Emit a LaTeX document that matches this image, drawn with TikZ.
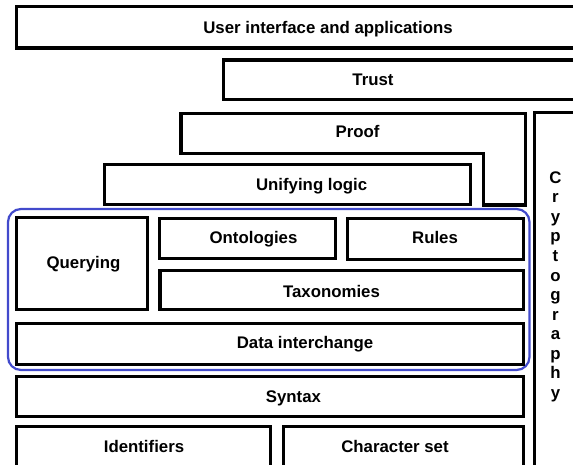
\documentclass[tikz,border=0pt]{standalone}
\usepackage{fontspec}
\setmainfont{Liberation Sans}
\definecolor{groupblue}{RGB}{66,74,204}
\begin{document}
\begin{tikzpicture}[x=1pt,y=-1pt,
  layer/.style={draw=black,line width=3.2pt,fill=white},
  lbl/.style={font=\fontsize{16.8}{19.5}\selectfont\bfseries,anchor=base,inner sep=0pt}]
\useasboundingbox (0,0) rectangle (573,465);
\fill[white] (0,0) rectangle (573,465);
\clip (0,0) rectangle (573,465);

% upper layers
\draw[layer] (16.5,6.5) rectangle (590,48);
\draw[layer] (223.5,60) rectangle (590,99.5);
\draw[layer] (181,113.5) -- (525.5,113.5) -- (525.5,205) -- (483.5,205)
  -- (483.5,153.5) -- (181,153.5) -- cycle;
\draw[layer] (104.5,164.5) rectangle (470.5,204.5);

% cryptography column
\draw[layer] (534.5,112.5) rectangle (590,480);

% grouped middle layers
\draw[groupblue,line width=2.2pt,rounded corners=13pt] (8,209) rectangle (529.5,370);
\draw[layer] (16.5,217.5) rectangle (147.5,309.5);
\draw[layer] (159.5,218.5) rectangle (335.5,258.5);
\draw[layer] (347.5,218.5) rectangle (523.5,259.5);
\draw[layer] (160,270.5) rectangle (523.5,309.5);
\draw[layer] (16.5,323.5) rectangle (523.5,364.5);

% lower layers
\draw[layer] (16.5,376.5) rectangle (523.5,416.5);
\draw[layer] (16.5,426.5) rectangle (270.5,480);
\draw[layer] (283.5,426.5) rectangle (523.5,480);

% labels
\node[lbl] (ui) at (328,33.5) {User interface and applications};
\node[lbl] (trust) at (373,86) {Trust};
\node[lbl] (proof) at (357.5,138) {Proof};
\node[lbl] (logic) at (311.6,191) {Unifying logic};
\node[lbl] (query) at (83.5,268.5) {Querying};
\node[lbl] (onto) at (253.5,243.5) {Ontologies};
\node[lbl] (rules) at (435,243.5) {Rules};
\node[lbl] (taxo) at (331.5,297.5) {Taxonomies};
\node[lbl] (data) at (305,348.5) {Data interchange};
\node[lbl] (syntax) at (293.4,402) {Syntax};
\node[lbl] (ident) at (144,452.5) {Identifiers};
\node[lbl] (charset) at (395,452.5) {Character set};
\foreach \ch [count=\i from 0] in {C,r,y,p,t,o,g,r,a,p,h,y}
  \node[lbl] (crypto\i) at (555.5,{183.5+19.5*\i}) {\ch};
\end{tikzpicture}
\end{document}
